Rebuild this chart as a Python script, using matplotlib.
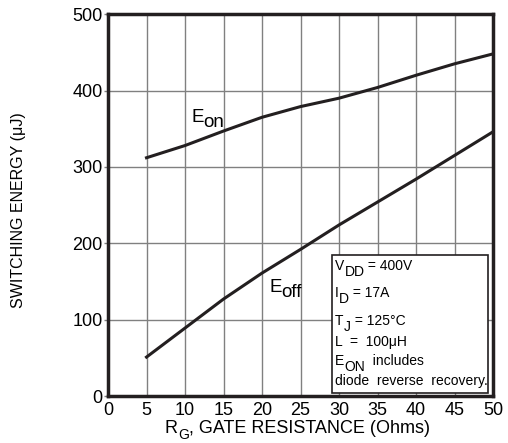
import matplotlib.pyplot as plt
import matplotlib.transforms as mtransforms
from matplotlib.patches import Rectangle

plt.rcParams['font.family'] = ['Liberation Sans', 'DejaVu Sans']

# gate resistance (Ohms)
rg = [5, 10, 15, 20, 25, 30, 35, 40, 45, 50]
# switching energy (uJ)
e_on = [312, 328, 347, 365, 379, 390, 404, 420, 435, 448]
e_off = [51, 89, 127, 161, 192, 224, 254, 284, 315, 346]

x_ticks = list(range(0, 55, 5))
y_ticks = [0, 100, 200, 300, 400, 500]

# test conditions: (text, subscript) pieces per line
conditions = [
    [("V", False), ("DD", True), (" = 400V", False)],
    [("I", False), ("D", True), (" = 17A", False)],
    [("T", False), ("J", True), (" = 125°C", False)],
    [("L  =  100μH", False)],
    [("E", False), ("ON", True), ("  includes", False)],
    [("diode  reverse  recovery.", False)],
]
cond_baselines = [165, 130, 93, 65, 40, 14]

fig = plt.figure(figsize=(5.08, 4.43), dpi=100)
ax = fig.add_axes([0.2126, 0.106, 0.7579, 0.862])
renderer = fig.canvas.get_renderer()


def rich(x, y, pieces, size, trans, sub_size=None, drop=5, gap=0):
    # draw text with subscripts, piece by piece
    dx = 0
    for s, sub in pieces:
        fs = (sub_size or size) if sub else size
        dy = -drop if sub else 0
        t = fig.text(x, y, s, fontsize=fs, va='baseline', ha='left',
                     transform=mtransforms.offset_copy(trans, fig=fig, x=dx, y=dy, units='dots'),
                     zorder=5)
        dx += t.get_window_extent(renderer).width + gap


ax.plot(rg, e_on, color='#231f20', lw=2.2, zorder=3)
ax.plot(rg, e_off, color='#231f20', lw=2.2, zorder=3)

ax.set_xlim(0, 50)
ax.set_ylim(0, 500)
ax.set_xticks(x_ticks)
ax.set_yticks(y_ticks)
ax.grid(True, color='#808080', lw=1.0)
ax.set_axisbelow(True)
for s in ax.spines.values():
    s.set_linewidth(2.5)
    s.set_color('#231f20')
    s.set_zorder(4)
ax.tick_params(axis='x', length=0, pad=4, labelsize=13)
ax.tick_params(axis='y', length=3, width=1, color='#808080', pad=1, labelsize=13)

fig.text(19 / 508, 0.525, "SWITCHING ENERGY (μJ)", fontsize=11.5, rotation=90,
         ha='center', va='center')
rich(165 / 508, 10 / 443, [("R", False), ("G", True), (", GATE RESISTANCE (Ohms)", False)],
     13, fig.transFigure, sub_size=10, drop=6)

rich(10.85, 359, [("E", False), ("on", True)], 13.5, ax.transData, drop=5, gap=-1)
rich(21.0, 136, [("E", False), ("off", True)], 13.5, ax.transData, drop=5, gap=-1)

ax.add_patch(Rectangle((29.1, 4), 20.2, 181, fc='white', ec='#231f20', lw=1.2, zorder=4))
for line, yb in zip(conditions, cond_baselines):
    rich(29.5, yb, line, 10, ax.transData, drop=6)

plt.savefig("out.png", dpi=100)
